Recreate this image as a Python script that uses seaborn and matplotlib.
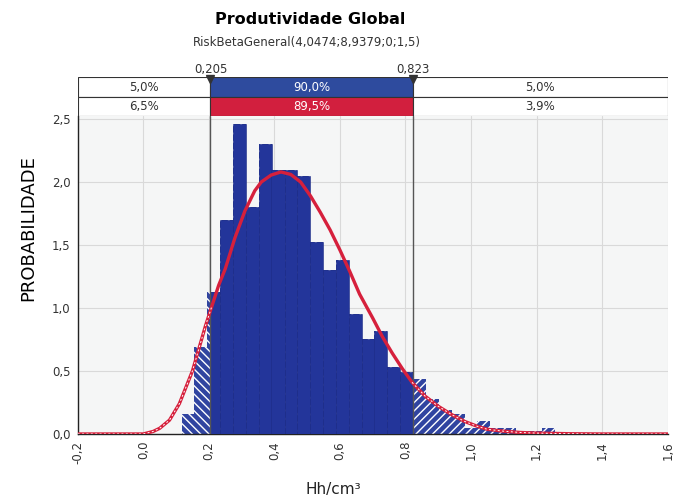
import numpy as np
import matplotlib
matplotlib.use("Agg")
import matplotlib.pyplot as plt
from matplotlib.patches import Rectangle
import seaborn as sns

# ---- data ----
bin_left = [0.117, 0.156, 0.195, 0.235, 0.274, 0.313, 0.352, 0.391, 0.431, 0.470,
            0.509, 0.548, 0.587, 0.627, 0.666, 0.705, 0.744, 0.783, 0.823, 0.862,
            0.901, 0.940, 0.980, 1.019, 1.058, 1.097, 1.136, 1.176, 1.215]
bin_height = [0.155, 0.69, 1.13, 1.70, 2.46, 1.80, 2.30, 2.095, 2.095, 2.05,
              1.52, 1.30, 1.38, 0.95, 0.75, 0.82, 0.535, 0.49, 0.435, 0.28,
              0.19, 0.156, 0.05, 0.106, 0.045, 0.045, 0.02, 0.02, 0.045]
bin_width = 0.0392

curve_x = [-0.2, 0.0, 0.03, 0.05, 0.08, 0.11, 0.13, 0.15, 0.17, 0.19, 0.21, 0.23,
           0.25, 0.28, 0.31, 0.34, 0.36, 0.39, 0.42, 0.45, 0.48, 0.51, 0.54, 0.57,
           0.60, 0.63, 0.66, 0.70, 0.73, 0.76, 0.79, 0.82, 0.86, 0.90, 0.94, 0.98,
           1.02, 1.05, 1.10, 1.15, 1.20, 1.30, 1.40, 1.60]
curve_y = [0.0, 0.0, 0.02, 0.045, 0.11, 0.24, 0.37, 0.50, 0.68, 0.86, 1.02, 1.18,
           1.31, 1.56, 1.77, 1.93, 2.00, 2.055, 2.08, 2.06, 2.00, 1.89, 1.76, 1.62,
           1.46, 1.29, 1.11, 0.92, 0.77, 0.64, 0.52, 0.41, 0.30, 0.22, 0.155, 0.10,
           0.06, 0.037, 0.022, 0.012, 0.007, 0.002, 0.0, 0.0]

lo, hi = 0.205, 0.823
lo_label, hi_label = "0,205", "0,823"
top_row = ["5,0%", "90,0%", "5,0%"]
bottom_row = ["6,5%", "89,5%", "3,9%"]

x_ticks = [-0.2, 0.0, 0.2, 0.4, 0.6, 0.8, 1.0, 1.2, 1.4, 1.6]
x_labels = ["-0,2", "0,0", "0,2", "0,4", "0,6", "0,8", "1,0", "1,2", "1,4", "1,6"]
y_ticks = [0.0, 0.5, 1.0, 1.5, 2.0, 2.5]
y_labels = ["0,0", "0,5", "1,0", "1,5", "2,0", "2,5"]

BLUE = "#23359a"
HATCH_BLUE = "#3044a0"
RED = "#d6203c"
TXT = "#333333"

sns.set_style("white")
plt.rcParams['font.family'] = ['DejaVu Sans']
plt.rcParams['hatch.linewidth'] = 1.0

fig = plt.figure(figsize=(6.83, 4.97), dpi=100)
ax = fig.add_axes([0.1138, 0.1268, 0.8638, 0.6388])
box = fig.add_axes([0.1138, 0.7656, 0.8638, 0.0785])

xmin, xmax = x_ticks[0], x_ticks[-1]

# ---- histogram ----
left = np.array(bin_left)
h = np.array(bin_height)
# widths reach the next bin so no gaps show between bars
w = np.append(np.diff(left), bin_width) + 0.0005
lt = left < 0.5
ax.bar(left[lt], h[lt], width=w[lt], align='edge', color=HATCH_BLUE,
       edgecolor='white', linewidth=0, hatch='\\\\\\\\', zorder=2)
ax.bar(left[~lt], h[~lt], width=w[~lt], align='edge', color=HATCH_BLUE,
       edgecolor='white', linewidth=0, hatch='////', zorder=2)
solid = ax.bar(left, h, width=w, align='edge', color=BLUE,
               edgecolor='#1c2b85', linewidth=0.4, zorder=3)
clip = Rectangle((lo, 0), hi - lo, 3, transform=ax.transData)
for p in solid:
    p.set_clip_path(clip)

ax.axvline(lo, color='#555555', lw=1, zorder=4)
ax.axvline(hi, color='#555555', lw=1, zorder=4)

# ---- fitted curve ----
cx = np.array(curve_x)
cy = np.array(curve_y)
sns.lineplot(x=cx, y=cy, color=RED, lw=2.4, ax=ax, zorder=5)
for m in (cx <= lo + 0.01, cx >= hi - 0.005):
    ax.plot(cx[m], cy[m], color='white', lw=0.7, ls=(0, (2, 2.5)), zorder=6)

ax.set_xlim(xmin, xmax)
ax.set_ylim(0, 2.52)
ax.set_facecolor('#f5f6f6')
ax.grid(True, color='#d9d9d9', lw=0.8, zorder=0)
ax.set_axisbelow(True)
for s in ('top', 'right'):
    ax.spines[s].set_visible(False)
for s in ('left', 'bottom'):
    ax.spines[s].set_color('#222222')
    ax.spines[s].set_linewidth(1)

ax.set_xticks(x_ticks)
ax.set_xticklabels(x_labels, rotation=90, fontsize=8.5, color=TXT)
ax.set_yticks(y_ticks)
ax.set_yticklabels(y_labels, fontsize=8.5, color=TXT)
ax.tick_params(axis='both', length=3, width=0.8, color='#333333', pad=2)

ax.set_ylabel('PROBABILIDADE', fontsize=13, color='black', va='center')
ax.yaxis.set_label_coords(-0.084, 0.65)
ax.set_xlabel('Hh/cm³', fontsize=11, color='#222222', va='center')
ax.xaxis.set_label_coords(0.433, -0.176)

# ---- delimiter boxes ----
box.set_xlim(xmin, xmax)
box.set_ylim(0, 2)
box.axis('off')
lefts = [xmin, lo, hi]
widths = [lo - xmin, hi - lo, xmax - hi]
centers = [l + wd / 2 for l, wd in zip(lefts, widths)]
box.barh(1.5, widths, left=lefts, height=1, color=['white', '#2e4b9e', 'white'],
         edgecolor='#333333', linewidth=0.8)
box.barh(0.5, widths, left=lefts, height=1, color=['white', '#d21f3e', 'white'],
         edgecolor='#333333', linewidth=0.8)
for i, c in enumerate(centers):
    col = 'white' if i == 1 else TXT
    box.text(c, 1.5, top_row[i], ha='center', va='center', fontsize=8.5, color=col)
    box.text(c, 0.5, bottom_row[i], ha='center', va='center', fontsize=8.5, color=col)
box.plot([lo, hi], [1.93, 1.93], ls='none', marker='v', ms=6, color='#333333',
         clip_on=False)
box.text(lo, 2.4, lo_label, ha='center', va='center', fontsize=8.5, color=TXT)
box.text(hi, 2.4, hi_label, ha='center', va='center', fontsize=8.5, color=TXT)

fig.text(0.4546, 0.9598, 'Produtividade Global', ha='center', va='center',
         fontsize=11.5, fontweight='bold', color='black')
fig.text(0.4495, 0.9135, 'RiskBetaGeneral(4,0474;8,9379;0;1,5)', ha='center',
         va='center', fontsize=8.5, color=TXT)

fig.savefig('out.png', dpi=100)
